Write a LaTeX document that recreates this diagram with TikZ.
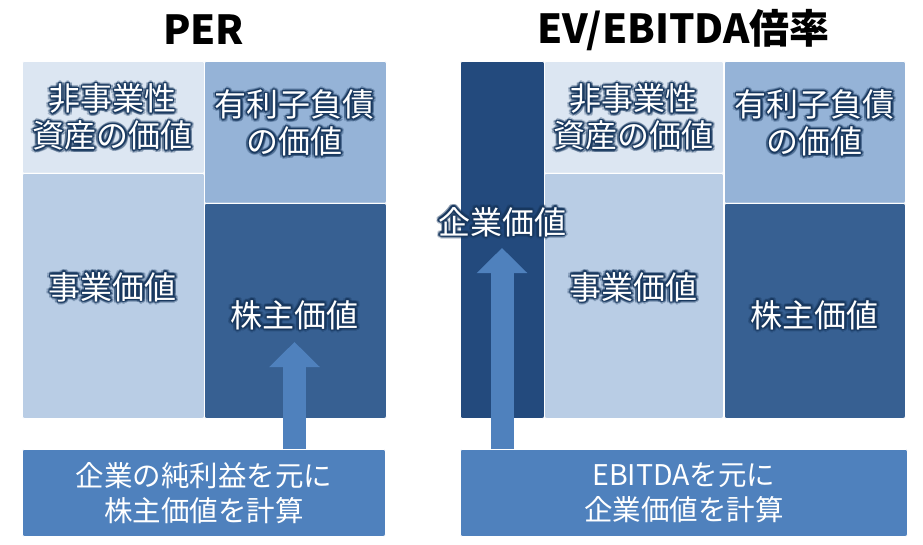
\documentclass[tikz,border=0pt]{standalone}
\usepackage{fontspec}
\setmainfont{Noto Sans CJK JP}
\usetikzlibrary{positioning,calc,arrows.meta}
\definecolor{nonbiz}{HTML}{DCE6F2}
\definecolor{biz}{HTML}{B9CDE5}
\definecolor{debt}{HTML}{95B3D7}
\definecolor{equity}{HTML}{376092}
\definecolor{evcol}{HTML}{234A7D}
\definecolor{calcblue}{HTML}{4F81BD}
\definecolor{glowblue}{HTML}{17375E}

% white label with a dark blue halo
\newcommand{\glowlabel}[3]{%
  \foreach \ang in {0,30,...,330} {
    \node[glowtxt, opacity=0.3] at ($(#2)+(\ang:3pt)$) {#3};
    \node[glowtxt, opacity=0.65] at ($(#2)+(\ang:1.5pt)$) {#3};
  }
  \node[boxtxt] (#1) at (#2) {#3};
}

\begin{document}
\begin{tikzpicture}[x=1pt,y=-1pt,
  blk/.style={anchor=north west, inner sep=0pt, draw=white, line width=0.8pt, rounded corners=2pt},
  boxtxt/.style={text=white, align=center, font=\fontsize{32}{37}\selectfont},
  glowtxt/.style={boxtxt, text=glowblue},
  calctxt/.style={text=white, align=center, font=\fontsize{28.5}{35}\selectfont},
  ttl/.style={font=\fontsize{40}{44}\selectfont\bfseries},
  uparrow/.style={draw=calcblue, line width=23pt, -{Triangle[width=49pt,length=25pt]}}]
    \useasboundingbox (0,0) rectangle (923,545);

    % PER
    \node[ttl] (perTitle) at (203.5,30) {PER};
    \node[blk, fill=nonbiz, minimum width=182pt, minimum height=112pt] (perNon) at (22,61) {};
    \node[blk, fill=biz, minimum width=182pt, minimum height=245pt] (perBiz) at (22,173) {};
    \node[blk, fill=debt, minimum width=182pt, minimum height=142pt] (perDebt) at (204,61) {};
    \node[blk, fill=equity, minimum width=182pt, minimum height=215pt] (perEq) at (204,203) {};
    \node[blk, fill=calcblue, minimum width=363pt, minimum height=87pt, calctxt] (perCalc) at (22,449) {企業の純利益を元に\\株主価値を計算};
    \coordinate (perTip) at (294.5,342);
    \draw[uparrow] (perTip |- perCalc.north) -- (perTip);

    \glowlabel{perNonTxt}{112.5,117}{非事業性\\資産の価値}
    \glowlabel{perDebtTxt}{294.5,123}{有利子負債\\の価値}
    \glowlabel{perBizTxt}{112.5,287}{事業価値}
    \glowlabel{perEqTxt}{294.5,315}{株主価値}

    % EV/EBITDA
    \node[ttl] (evTitle) at (683.5,30) {EV/EBITDA倍率};
    \node[blk, fill=evcol, minimum width=84pt, minimum height=357pt] (evCol) at (460,61) {};
    \node[blk, fill=nonbiz, minimum width=179pt, minimum height=112pt] (evNon) at (544,61) {};
    \node[blk, fill=biz, minimum width=179pt, minimum height=245pt] (evBiz) at (544,173) {};
    \node[blk, fill=debt, minimum width=181pt, minimum height=142pt] (evDebt) at (724,61) {};
    \node[blk, fill=equity, minimum width=181pt, minimum height=215pt] (evEq) at (724,203) {};
    \node[blk, fill=calcblue, minimum width=447pt, minimum height=87pt, calctxt] (evCalc) at (460,449) {EBITDAを元に\\企業価値を計算};
    \coordinate (evTip) at (502,248);
    \draw[uparrow] (evTip |- evCalc.north) -- (evTip);

    \glowlabel{evValTxt}{502,222}{企業価値}
    \glowlabel{evNonTxt}{633.5,117}{非事業性\\資産の価値}
    \glowlabel{evDebtTxt}{814.5,123}{有利子負債\\の価値}
    \glowlabel{evBizTxt}{633.5,287}{事業価値}
    \glowlabel{evEqTxt}{814.5,315}{株主価値}
\end{tikzpicture}
\end{document}
